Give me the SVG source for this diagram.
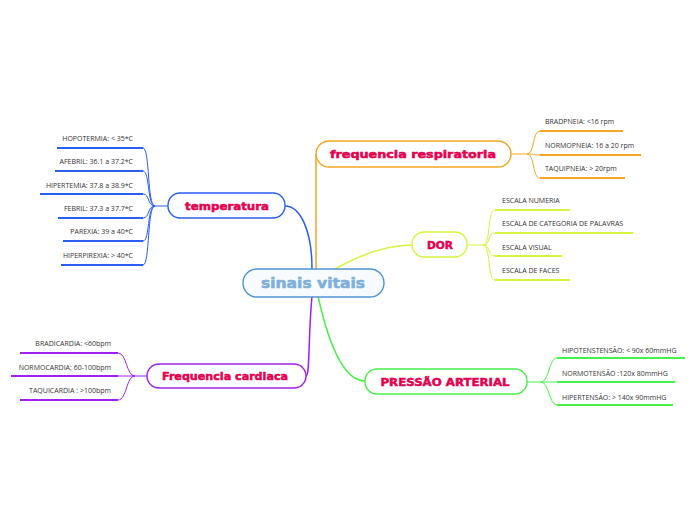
<svg xmlns="http://www.w3.org/2000/svg" width="696" height="520" viewBox="0 0 696 520">
<style>
.node{stroke-width:1.4}
.nt{font-family:"DejaVu Sans",sans-serif;font-weight:bold;font-size:11px;fill:#e5004f;stroke:#e5004f;stroke-width:0.5;text-anchor:middle}
.lt{font-family:"Open Sans","Liberation Sans",sans-serif;font-size:7px;fill:#333}
.r{text-anchor:end}
.c{fill:none;stroke-width:1}
.u{fill:none;stroke-width:2}
</style>
<rect width="696" height="520" fill="#fff"/>
<g id="connectors">
  <path d="M312,269 C312,230 300,206 285,206" fill="none" stroke="#2a5ef0" stroke-width="1.5"/>
  <path d="M316,269 L316,154" fill="none" stroke="#f5a623" stroke-width="1.5"/>
  <path d="M335,269 C360,255 385,245 412,245" fill="none" stroke="#d4f53c" stroke-width="1.5"/>
  <path d="M318,296 C330,350 345,381 365,381" fill="none" stroke="#47f04a" stroke-width="1.5"/>
  <path d="M312,296 C308,340 310,376 306,376" fill="none" stroke="#a020f0" stroke-width="1.5"/>
  <g stroke="#2a5ef0">
    <path class="c" d="M168,206 L155,206"/>
    <path class="c" d="M155,206 C147,206 150,148 143,148"/>
    <path class="c" d="M155,206 C147,206 150,171 143,171"/>
    <path class="c" d="M155,206 C147,206 150,194 143,194"/>
    <path class="c" d="M155,206 C147,206 150,218 143,218"/>
    <path class="c" d="M155,206 C147,206 150,241 143,241"/>
    <path class="c" d="M155,206 C147,206 150,265 143,265"/>
    <path class="u" d="M57,148 H143 M55,171 H143 M40,194 H143 M58,218 H143 M63,241 H143 M61,265 H143"/>
  </g>
  <g stroke="#f5a623">
    <path class="c" d="M511,154 L527,154"/>
    <path class="c" d="M527,154 C535,154 532,131 540,131"/>
    <path class="c" d="M527,154 C535,154 532,155 540,155"/>
    <path class="c" d="M527,154 C535,154 532,178 540,178"/>
    <path class="u" d="M540,131 H623 M540,155 H641 M540,178 H625"/>
  </g>
  <g stroke="#d4f53c">
    <path class="c" d="M467,245 L483,245"/>
    <path class="c" d="M483,245 C491,245 487,210 495,210"/>
    <path class="c" d="M483,245 C491,245 487,233 495,233"/>
    <path class="c" d="M483,245 C491,245 487,256 495,256"/>
    <path class="c" d="M483,245 C491,245 487,280 495,280"/>
    <path class="u" d="M495,210 H570 M495,233 H633 M495,256 H562 M495,280 H570"/>
  </g>
  <g stroke="#47f04a">
    <path class="c" d="M527,382 L541,382"/>
    <path class="c" d="M541,382 C549,382 549,358 557,358"/>
    <path class="c" d="M541,382 C549,382 549,382 557,382"/>
    <path class="c" d="M541,382 C549,382 549,405 557,405"/>
    <path class="u" d="M557,358 H685 M557,382 H675 M557,405 H673"/>
  </g>
  <g stroke="#a020f0">
    <path class="c" d="M147,376 L135,376"/>
    <path class="c" d="M135,376 C126,376 127,353 118,353"/>
    <path class="c" d="M135,376 C126,376 127,376 118,376"/>
    <path class="c" d="M135,376 C126,376 127,400 118,400"/>
    <path class="u" d="M20,353 H118 M11,376 H118 M20,400 H118"/>
  </g>
</g>
<g id="center">
  <rect x="243" y="269" width="141" height="28" rx="14" fill="#f7fbff" stroke="#4f94d4" stroke-width="1.4"/>
  <text x="313" y="288" font-family="DejaVu Sans,sans-serif" font-weight="bold" font-size="14" fill="#80b0da" stroke="#80b0da" stroke-width="0.6" text-anchor="middle" textLength="104" lengthAdjust="spacingAndGlyphs">sinais vitais</text>
</g>
<g id="temperatura">
  <rect class="node" x="168" y="193" width="117" height="25" rx="12" fill="#fff" stroke="#2a5ef0"/>
  <text class="nt" x="227" y="210" textLength="84" lengthAdjust="spacingAndGlyphs">temperatura</text>
  <text class="lt r" x="133" y="141">HOPOTERMIA: &lt; 35*C</text>
  <text class="lt r" x="133" y="164">AFEBRIL: 36.1 a 37.2*C</text>
  <text class="lt r" x="133" y="188">HIPERTEMIA: 37.8 a 38.9*C</text>
  <text class="lt r" x="133" y="211">FEBRIL: 37.3 a 37.7*C</text>
  <text class="lt r" x="133" y="234">PAREXIA: 39 a 40*C</text>
  <text class="lt r" x="133" y="258">HIPERPIREXIA: &gt; 40*C</text>
</g>
<g id="frequencia-respiratoria">
  <rect class="node" x="316" y="141" width="195" height="26" rx="13" fill="#fff" stroke="#f5a623"/>
  <text class="nt" x="413" y="158" textLength="166" lengthAdjust="spacingAndGlyphs">frequencia respiratoria</text>
  <text class="lt" x="545" y="124">BRADPNEIA: &lt;16 rpm</text>
  <text class="lt" x="545" y="148">NORMOPNEIA: 16 a 20 rpm</text>
  <text class="lt" x="545" y="171">TAQUIPNEIA: &gt; 20rpm</text>
</g>
<g id="dor">
  <rect class="node" x="412" y="232" width="55" height="25" rx="12" fill="#fff" stroke="#d4f53c"/>
  <text class="nt" x="440" y="249" font-size="10" textLength="26" lengthAdjust="spacingAndGlyphs">DOR</text>
  <text class="lt" x="502" y="203">ESCALA NUMERIA</text>
  <text class="lt" x="502" y="226">ESCALA DE CATEGORIA DE PALAVRAS</text>
  <text class="lt" x="502" y="250">ESCALA VISUAL</text>
  <text class="lt" x="502" y="273">ESCALA DE FACES</text>
</g>
<g id="pressao-arterial">
  <rect class="node" x="365" y="369" width="162" height="25" rx="12" fill="#fff" stroke="#47f04a"/>
  <text class="nt" x="445" y="386" font-size="10" textLength="129" lengthAdjust="spacingAndGlyphs">PRESSÃO ARTERIAL</text>
  <text class="lt" x="562" y="353">HIPOTENSTENSÃO: &lt; 90x 60mmHG</text>
  <text class="lt" x="562" y="376">NORMOTENSÃO :120x 80mmHG</text>
  <text class="lt" x="562" y="400">HIPERTENSÃO: &gt; 140x 90mmHG</text>
</g>
<g id="frequencia-cardiaca">
  <rect class="node" x="147" y="364" width="159" height="24" rx="12" fill="#fff" stroke="#a020f0"/>
  <text class="nt" x="225" y="380" font-size="10" textLength="126" lengthAdjust="spacingAndGlyphs">Frequencia cardiaca</text>
  <text class="lt r" x="111" y="346">BRADICARDIA: &lt;60bpm</text>
  <text class="lt r" x="111" y="370">NORMOCARDIA; 60-100bpm</text>
  <text class="lt r" x="111" y="393">TAQUICARDIA : &gt;100bpm</text>
</g>
</svg>
